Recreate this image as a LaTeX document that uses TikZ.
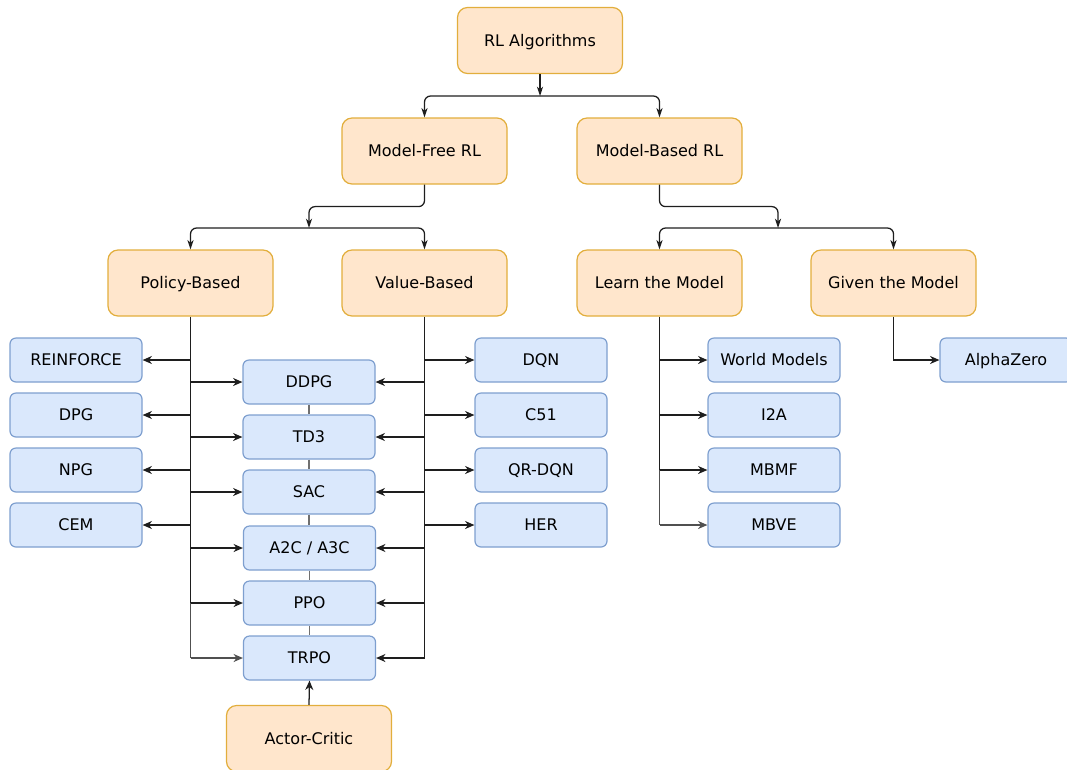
\documentclass[tikz,border=0pt]{standalone}
\usepackage{fontspec}
\setmainfont{DejaVu Sans}
\usetikzlibrary{arrows.meta}
\definecolor{ofill}{HTML}{FFE6CC}
\definecolor{oline}{HTML}{E2AE3C}
\definecolor{bfill}{HTML}{DAE8FC}
\definecolor{bline}{HTML}{7E9FCF}
\definecolor{wire}{HTML}{1E1E1E}
\definecolor{wirelight}{HTML}{505050}
\definecolor{chain}{HTML}{707070}
\tikzset{
  boxtext/.style={font=\fontsize{12}{14.4}\selectfont, text height=10.75pt, text depth=2pt},
  obox/.style={draw=oline, fill=ofill, line width=0.9pt, rounded corners=7.5pt,
    minimum width=123.75pt, minimum height=49.5pt, inner sep=0pt, boxtext},
  bbox/.style={draw=bline, fill=bfill, line width=0.9pt, rounded corners=4.5pt,
    minimum width=99pt, minimum height=33pt, inner sep=0pt, boxtext},
  wireline/.style={draw=wire, line width=0.95pt},
  arr/.style={wireline, -{Stealth[length=7pt, width=6pt, inset=2.2pt]}},
  thinarr/.style={wireline, -{Stealth[length=7pt, width=4.6pt, inset=2pt]}},
  fork/.style={thinarr, rounded corners=4.5pt},
}
\begin{document}
\begin{tikzpicture}[x=0.75pt, y=-0.75pt]
\useasboundingbox (0,0) rectangle (1067,769);

% top levels
\node[obox] (rl) at (540,40.5)  {RL Algorithms};
\node[obox] (mf) at (424.5,151) {Model-Free RL};
\node[obox] (mb) at (659.5,151) {Model-Based RL};
\node[obox] (pb) at (190.5,283) {Policy-Based};
\node[obox] (vb) at (424.5,283) {Value-Based};
\node[obox] (lm) at (659.5,283) {Learn the Model};
\node[obox] (gm) at (893.5,283) {Given the Model};
\node[obox] (ac) at (309,738.5) {Actor-Critic};

% policy-based methods
\node[bbox] (reinforce) at (76,360) {REINFORCE};
\node[bbox] (dpg)       at (76,415) {DPG};
\node[bbox] (npg)       at (76,470) {NPG};
\node[bbox] (cem)       at (76,525) {CEM};

% actor-critic family
\node[bbox] (ddpg) at (309,382) {DDPG};
\node[bbox] (td3)  at (309,437) {TD3};
\node[bbox] (sac)  at (309,492) {SAC};
\node[bbox] (a2c)  at (309.5,548) {A2C / A3C};
\node[bbox] (ppo)  at (309.5,603) {PPO};
\node[bbox] (trpo) at (309.5,658) {TRPO};

% value-based methods
\node[bbox] (dqn)   at (541,360) {DQN};
\node[bbox] (c51)   at (541,415) {C51};
\node[bbox] (qrdqn) at (541,470) {QR-DQN};
\node[bbox] (her)   at (541,525) {HER};

% model-based methods
\node[bbox] (wm)   at (774,360) {World Models};
\node[bbox] (i2a)  at (774,415) {I2A};
\node[bbox] (mbmf) at (774,470) {MBMF};
\node[bbox] (mbve) at (774,525) {MBVE};
\node[bbox] (az)   at (1006,360) {AlphaZero};

% junction points of the forks
\coordinate (j1) at (540,96);
\coordinate (j2) at (309,228);
\coordinate (j3) at (778,228);

% RL Algorithms -> Model-Free / Model-Based
\draw[thinarr] (rl.south) -- (j1);
\draw[fork] (j1) -| (mf.north);
\draw[fork] (j1) -| (mb.north);

% Model-Free -> Policy / Value
\draw[fork] (mf.south) -- ++(0,22) -| (j2);
\draw[fork] (j2) -| (pb.north);
\draw[fork] (j2) -| (vb.north);

% Model-Based -> Learn / Given
\draw[fork] (mb.south) -- ++(0,22) -| (j3);
\draw[fork] (j3) -| (lm.north);
\draw[fork] (j3) -| (gm.north);

% Policy-Based trunk and branches
\draw[wireline] (pb.south) -- (pb.south |- ppo.west);
\draw[wireline, draw=wirelight] (pb.south |- ppo.west) -- (pb.south |- trpo.west);
\foreach \n in {reinforce,dpg,npg,cem}
  \draw[arr] (pb.south |- \n.east) -- (\n.east);
\foreach \n in {ddpg,td3,sac,a2c,ppo}
  \draw[arr] (pb.south |- \n.west) -- (\n.west);
\draw[arr, draw=wirelight] (pb.south |- trpo.west) -- (trpo.west);

% Value-Based trunk and branches
\draw[wireline] (vb.south) -- (vb.south |- trpo.east);
\foreach \n in {dqn,c51,qrdqn,her}
  \draw[arr] (vb.south |- \n.west) -- (\n.west);
\foreach \n in {ddpg,td3,sac,a2c,ppo,trpo}
  \draw[arr] (vb.south |- \n.east) -- (\n.east);

% actor-critic chain
\draw[draw=chain, line width=0.95pt] (ddpg.south) -- (td3.north);
\draw[draw=chain, line width=0.95pt] (td3.south) -- (sac.north);
\draw[draw=chain, line width=0.95pt] (sac.south) -- (sac.south |- a2c.north);
\draw[draw=chain, line width=0.95pt] (a2c.south) -- (ppo.north);
\draw[draw=chain, line width=0.95pt] (ppo.south) -- (trpo.north);
\draw[arr] (ac.north) -- (trpo.south);

% Learn the Model trunk and branches
\draw[wireline] (lm.south) -- (lm.south |- mbmf.west);
\draw[wireline, draw=wirelight] (lm.south |- mbmf.west) -- (lm.south |- mbve.west);
\foreach \n in {wm,i2a,mbmf}
  \draw[arr] (lm.south |- \n.west) -- (\n.west);
\draw[arr, draw=wirelight] (lm.south |- mbve.west) -- (mbve.west);

% Given the Model -> AlphaZero
\draw[arr] (gm.south) |- (az.west);
\end{tikzpicture}
\end{document}
